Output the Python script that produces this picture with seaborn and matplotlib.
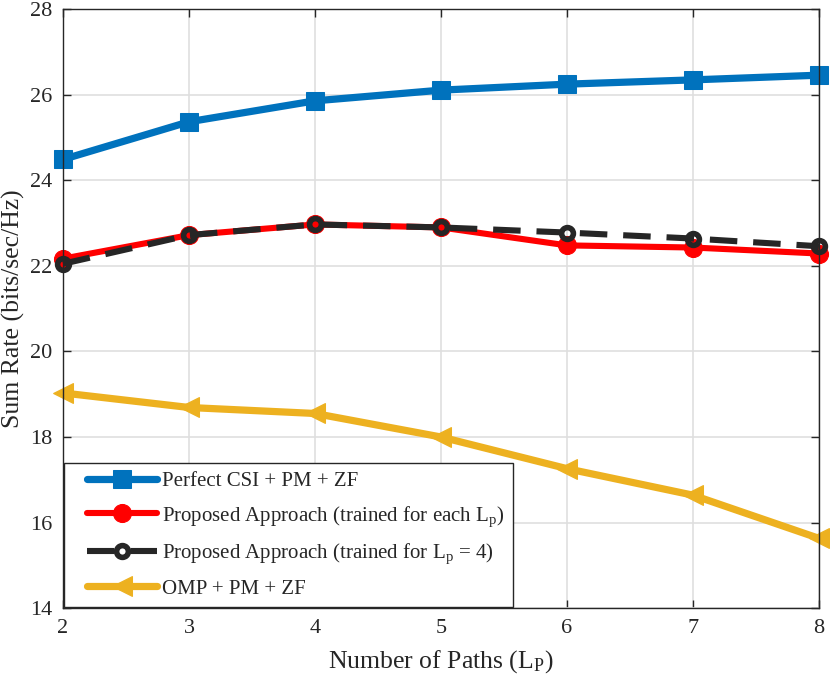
import pandas as pd
import matplotlib.pyplot as plt
import seaborn as sns
from matplotlib.lines import Line2D
from matplotlib.legend_handler import HandlerLine2D

# values
paths = [2, 3, 4, 5, 6, 7, 8]
perfect_csi = [24.49, 25.37, 25.86, 26.11, 26.25, 26.35, 26.46]
proposed_each = [22.17, 22.72, 22.97, 22.90, 22.48, 22.43, 22.29]
proposed_lp4 = [22.05, 22.72, 22.97, 22.90, 22.78, 22.64, 22.46]
omp = [19.03, 18.69, 18.55, 18.00, 17.26, 16.64, 15.63]

labels = ['Perfect CSI + PM + ZF',
          r'Proposed Approach (trained for each L$_\mathrm{p}$)',
          r'Proposed Approach (trained for L$_\mathrm{p}$ = 4)',
          'OMP + PM + ZF']

sns.set_style('ticks')
plt.rcParams['font.family'] = ['Liberation Serif', 'DejaVu Serif']
plt.rcParams['mathtext.fontset'] = 'custom'
plt.rcParams['mathtext.rm'] = 'Liberation Serif'
plt.rcParams['mathtext.it'] = 'Liberation Serif:italic'

fig = plt.figure(figsize=(8.3, 6.84), dpi=100)
ax = fig.add_axes([0.0759, 0.111, 0.9108, 0.8754])

df = pd.DataFrame({'paths': paths, 'perfect': perfect_csi, 'each': proposed_each,
                   'lp4': proposed_lp4, 'omp': omp})

common = dict(ax=ax, x='paths', data=df, clip_on=False)
sns.lineplot(y='perfect', color='#0072BD', lw=5.2, marker='s', ms=12.5,
             mec='#0072BD', label=labels[0], **common)
sns.lineplot(y='each', color='#FF0000', lw=4.4, marker='o', ms=13,
             mec='#FF0000', label=labels[1], **common)
sns.lineplot(y='lp4', color='#262626', lw=4.4, marker='o', ms=8.5, mfc='none',
             mec='#262626', mew=4, dashes=(4.5, 2.6), label=labels[2], **common)
sns.lineplot(y='omp', color='#EDB120', lw=5.2, marker='<', ms=15,
             mec='#EDB120', label=labels[3], **common)

ax.set_xlim(2, 8)
ax.set_ylim(14, 28)
ax.set_xticks(paths)
ax.set_yticks(range(14, 29, 2))
ax.grid(True, color='#DFDFDF', lw=1.2)
ax.set_axisbelow(True)
ax.tick_params(direction='in', top=True, right=True, length=6, width=1,
               labelsize=16, color='#262626', labelcolor='#262626', pad=8)
for s in ax.spines.values():
    s.set_color('#262626')
    s.set_linewidth(1)

ax.set_xlabel(r'Number of Paths (L$_\mathrm{P}$)', fontsize=18.5, color='#262626', labelpad=7)
ax.set_ylabel('Sum Rate (bits/sec/Hz)', fontsize=18.5, color='#262626')
ax.yaxis.set_label_coords(-0.05, 0.5)

leg = ax.legend(loc='lower left', bbox_to_anchor=(0, 0), borderaxespad=0.05,
                fontsize=15, handlelength=4.05, handletextpad=0.25,
                fancybox=False, framealpha=1, edgecolor='#262626',
                labelspacing=0.62, borderpad=0.4,
                handler_map={Line2D: HandlerLine2D(xpad=0.7)})
leg.get_frame().set_linewidth(1)
leg.set_zorder(10)

plt.savefig('out.png', dpi=100)
